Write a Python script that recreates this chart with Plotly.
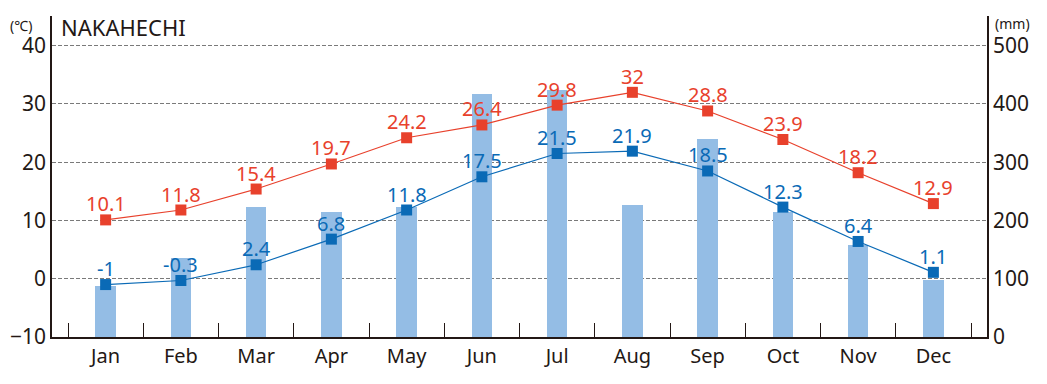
import plotly.graph_objects as go

months = ["Jan", "Feb", "Mar", "Apr", "May", "Jun", "Jul", "Aug", "Sep", "Oct", "Nov", "Dec"]
temp_max = [10.1, 11.8, 15.4, 19.7, 24.2, 26.4, 29.8, 32, 28.8, 23.9, 18.2, 12.9]
temp_min = [-1, -0.3, 2.4, 6.8, 11.8, 17.5, 21.5, 21.9, 18.5, 12.3, 6.4, 1.1]
precip = [88, 135, 224, 214, 224, 417, 424, 227, 340, 215, 158, 98]

temp_ticks = [-10, 0, 10, 20, 30, 40]
precip_ticks = [0, 100, 200, 300, 400, 500]

RED = "#E8412C"
BLUE = "#0A6AB6"
BAR = "#94BDE5"
INK = "#231815"
FONT = "Noto Sans"

fig = go.Figure()

fig.add_trace(go.Bar(
    x=months, y=precip, width=0.27, marker=dict(color=BAR, line=dict(width=0)),
    yaxis="y", hoverinfo="skip", showlegend=False,
))

for series, color in ((temp_max, RED), (temp_min, BLUE)):
    fig.add_trace(go.Scatter(
        x=months, y=series, yaxis="y2", mode="lines+markers",
        line=dict(color=color, width=1.2),
        marker=dict(symbol="square", size=11, color=color),
        showlegend=False, cliponaxis=False,
    ))

annotations = []
for series, color in ((temp_max, RED), (temp_min, BLUE)):
    for m, v in zip(months, series):
        annotations.append(dict(
            x=m, y=v, xref="x", yref="y2", text=str(v), showarrow=False,
            xanchor="center", yanchor="middle", yshift=16,
            font=dict(family=FONT, size=20, color=color),
        ))

annotations += [
    dict(text="NAKAHECHI", xref="paper", yref="paper", x=0.008, y=0.967,
         xanchor="left", yanchor="middle", showarrow=False,
         font=dict(family=FONT, size=22, color=INK)),
    dict(text="(℃)", xref="paper", yref="paper", x=-0.033, y=0.969,
         xanchor="center", yanchor="middle", showarrow=False,
         font=dict(family=FONT, size=14, color=INK)),
    dict(text="(mm)", xref="paper", yref="paper", x=1.027, y=0.978,
         xanchor="center", yanchor="middle", showarrow=False,
         font=dict(family=FONT, size=14, color=INK)),
]

fig.update_layout(
    width=1039, height=376,
    margin=dict(l=44, r=60, t=8, b=47),
    paper_bgcolor="white", plot_bgcolor="white",
    font=dict(family=FONT, size=20, color=INK),
    bargap=0,
    xaxis=dict(
        type="category", showline=True, linecolor=INK, linewidth=1.5,
        ticks="inside", tickson="boundaries", ticklen=14, tickcolor=INK, tickwidth=1.2,
        showgrid=False, tickfont=dict(family=FONT, size=20, color=INK),
        automargin=False,
    ),
    yaxis=dict(
        side="right", range=[0, 551], tickvals=precip_ticks,
        showline=True, linecolor=INK, linewidth=1.5,
        showgrid=True, gridcolor="#7a7a7a", gridwidth=1, griddash="4px,2px",
        zeroline=False, ticks="", tickfont=dict(family=FONT, size=21, color=INK),
        automargin=False,
    ),
    yaxis2=dict(
        side="left", overlaying="y", range=[-10, 45.1], tickvals=temp_ticks,
        showline=True, linecolor=INK, linewidth=1.5,
        showgrid=False, zeroline=False, ticks="",
        tickfont=dict(family=FONT, size=21, color=INK),
        automargin=False,
    ),
    annotations=annotations,
)

fig.write_html("out.html")
